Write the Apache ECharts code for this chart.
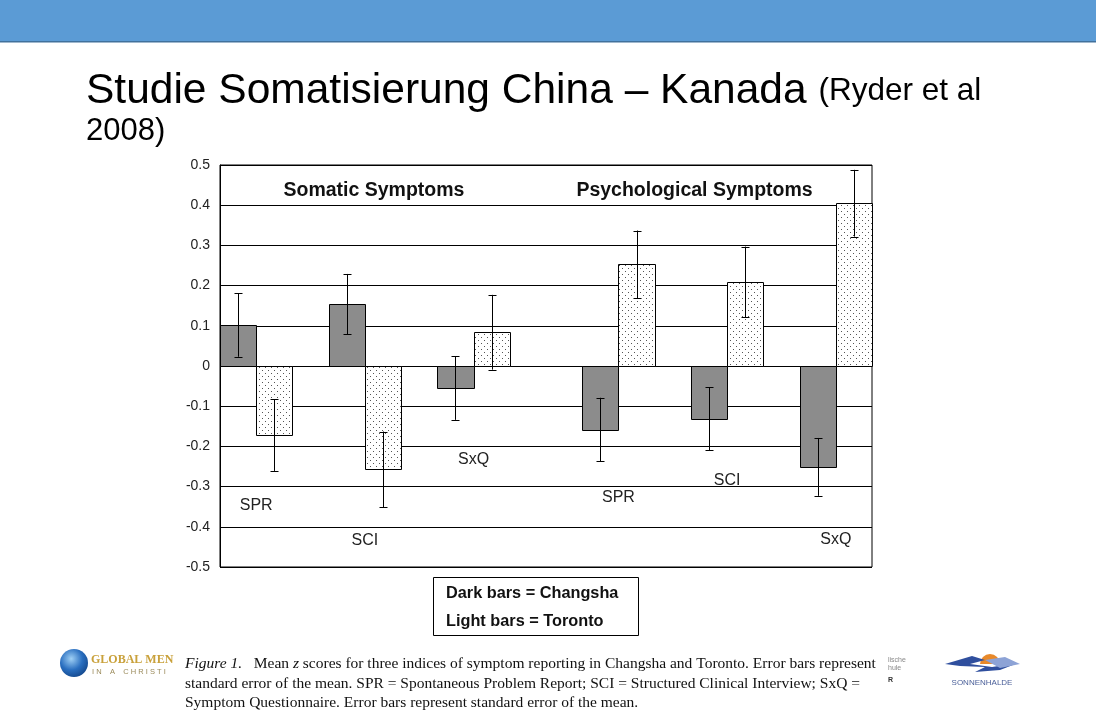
<!DOCTYPE html>
<html>
<head>
<meta charset="utf-8">
<script src="https://cdn.jsdelivr.net/npm/echarts@6/dist/echarts.min.js"></script>
<style>
html,body{margin:0;padding:0;background:#fff;}
#main{width:1096px;height:720px;}
</style>
</head>
<body>
<div id="main"></div>
<script>
// ---- data ----
const categories = ['SPR', 'SCI', 'SxQ', 'SPR', 'SCI', 'SxQ'];
const panels = ['Somatic Symptoms', 'Psychological Symptoms'];
const changsha = [0.102, 0.154, -0.055, -0.158, -0.131, -0.251];
const changshaErr = [0.079, 0.075, 0.079, 0.079, 0.078, 0.072];
const toronto = [-0.172, -0.257, 0.084, 0.253, 0.209, 0.405];
const torontoErr = [0.089, 0.094, 0.093, 0.084, 0.088, 0.083];
const yTicks = [-0.5, -0.4, -0.3, -0.2, -0.1, 0, 0.1, 0.2, 0.3, 0.4, 0.5];

// ---- layout (not data) ----
const labelY = [-0.348, -0.435, -0.234, -0.328, -0.286, -0.433];
function slotOf(i) { return i * 3 + (i >= 3 ? 1 : 0); }

const chart = echarts.init(document.getElementById('main'), null, {renderer: 'canvas'});

// dotted pattern for light bars
const pat = document.createElement('canvas');
pat.width = 6; pat.height = 6;
const pc = pat.getContext('2d');
pc.fillStyle = '#fff'; pc.fillRect(0, 0, 6, 6);
pc.fillStyle = '#555';
pc.fillRect(1, 1, 1, 1);
pc.fillRect(4, 4, 1, 1);

function barData(vals, errs, offset) {
  return vals.map((v, i) => [slotOf(i) + offset, v, errs[i]]);
}

function renderBar(fill) {
  return function (params, api) {
    const s = api.value(0), v = api.value(1), e = api.value(2);
    const p0 = api.coord([s, 0]);
    const p1 = api.coord([s + 1, v]);
    const x = Math.round(p0[0]) + 0.5, x2 = Math.round(p1[0]) + 0.5;
    const y0 = Math.round(p0[1]) + 0.5, y1 = Math.round(p1[1]) + 0.5;
    const cx = Math.round((p0[0] + p1[0]) / 2) + 0.5;
    const eTop = api.coord([s, v + e])[1];
    const eBot = api.coord([s, v - e])[1];
    const cap = 4;
    return {
      type: 'group',
      children: [
        {type: 'rect', shape: {x: x, y: Math.min(y0, y1), width: x2 - x, height: Math.abs(y1 - y0)},
         style: {fill: fill, stroke: '#000', lineWidth: 1}},
        {type: 'line', shape: {x1: cx, y1: eTop, x2: cx, y2: eBot}, style: {stroke: '#000', lineWidth: 1}},
        {type: 'line', shape: {x1: cx - cap, y1: Math.round(eTop) + 0.5, x2: cx + cap, y2: Math.round(eTop) + 0.5}, style: {stroke: '#000', lineWidth: 1}},
        {type: 'line', shape: {x1: cx - cap, y1: Math.round(eBot) + 0.5, x2: cx + cap, y2: Math.round(eBot) + 0.5}, style: {stroke: '#000', lineWidth: 1}}
      ]
    };
  };
}

const serif = '"Liberation Serif", "Times New Roman"';
const capFont = '15.5px ' + serif;

const option = {
  animation: false,
  backgroundColor: '#fff',
  grid: {left: 220, top: 165, width: 652, height: 402, show: true, borderColor: '#000', borderWidth: 1, backgroundColor: 'transparent'},
  xAxis: {type: 'value', min: 0, max: 18, show: false},
  yAxis: {
    type: 'value', min: yTicks[0], max: yTicks[yTicks.length - 1], interval: 0.1,
    axisLine: {show: true, lineStyle: {color: '#000'}},
    axisTick: {show: false},
    splitLine: {show: true, lineStyle: {color: '#000', width: 1}},
    axisLabel: {color: '#222', fontFamily: 'Liberation Sans, Arial', fontSize: 14, margin: 10,
      formatter: v => Math.abs(v) < 1e-9 ? '0' : v.toFixed(1)}
  },
  series: [
    {type: 'custom', name: 'Changsha', renderItem: renderBar('#8c8c8c'), data: barData(changsha, changshaErr, 0), z: 3},
    {type: 'custom', name: 'Toronto', renderItem: renderBar({image: pat, repeat: 'repeat'}), data: barData(toronto, torontoErr, 1), z: 3},
    {type: 'custom', name: 'labels', z: 4,
     data: categories.map((c, i) => [slotOf(i) + 1, labelY[i]]),
     renderItem: function (params, api) {
       const p = api.coord([api.value(0), api.value(1)]);
       return {type: 'text', x: p[0], y: p[1],
         style: {text: categories[params.dataIndex], fill: '#222', font: '16px "Liberation Sans", Arial', align: 'center', verticalAlign: 'middle'}};
     }},
    {type: 'custom', name: 'panels', z: 4,
     data: panels.map((p, i) => [i === 0 ? 4.25 : 13.1, 0.437]),
     renderItem: function (params, api) {
       const p = api.coord([api.value(0), api.value(1)]);
       return {type: 'text', x: p[0], y: p[1],
         style: {text: panels[params.dataIndex], fill: '#111', font: 'bold 19.5px "Liberation Sans", Arial', align: 'center', verticalAlign: 'middle'}};
     }}
  ],
  graphic: [
    {type: 'rect', left: 0, top: 0, shape: {width: 1096, height: 42}, style: {fill: '#5b9bd5'}},
    {type: 'rect', left: 0, top: 41, shape: {width: 1096, height: 1.5}, style: {fill: '#41719c'}},
    {type: 'text', x: 86, y: 91, style: {
      text: '{a|Studie Somatisierung China – Kanada }{b|(Ryder et al}',
      verticalAlign: 'middle',
      rich: {a: {font: '42.5px "Liberation Sans", Arial', fill: '#000'}, b: {font: '31.5px "Liberation Sans", Arial', fill: '#000'}}
    }},
    {type: 'text', x: 86, y: 131, style: {text: '2008)', font: '31px "Liberation Sans", Arial', fill: '#000', verticalAlign: 'middle'}},
    // legend box
    {type: 'rect', shape: {x: 433.5, y: 577.5, width: 205, height: 58}, style: {fill: '#fff', stroke: '#000', lineWidth: 1}},
    {type: 'text', x: 446, y: 594, style: {text: 'Dark bars = Changsha', font: 'bold 16.3px "Liberation Sans", Arial', fill: '#111', verticalAlign: 'middle'}},
    {type: 'text', x: 446, y: 622, style: {text: 'Light bars = Toronto', font: 'bold 16.3px "Liberation Sans", Arial', fill: '#111', verticalAlign: 'middle'}},
    // caption
    {type: 'text', x: 185, y: 664, style: {
      text: '{i|Figure 1.}{n|   Mean }{i|z}{n| scores for three indices of symptom reporting in Changsha and Toronto. Error bars represent}',
      verticalAlign: 'middle',
      rich: {i: {font: 'italic ' + capFont, fill: '#111'}, n: {font: capFont, fill: '#111'}}
    }},
    {type: 'text', x: 185, y: 684, style: {text: 'standard error of the mean. SPR = Spontaneous Problem Report; SCI = Structured Clinical Interview; SxQ =', font: capFont, fill: '#111', verticalAlign: 'middle'}},
    {type: 'text', x: 185, y: 703, style: {text: 'Symptom Questionnaire. Error bars represent standard error of the mean.', font: capFont, fill: '#111', verticalAlign: 'middle'}},
    // left logo
    {type: 'circle', shape: {cx: 74, cy: 663, r: 14}, style: {fill: new echarts.graphic.RadialGradient(0.4, 0.35, 0.8, [{offset: 0, color: '#9fd0f5'}, {offset: 0.5, color: '#2a6fc0'}, {offset: 1, color: '#0c3a7a'}])}},
    {type: 'text', x: 91, y: 660, style: {text: 'GLOBAL MEN', font: 'bold 12px "Liberation Serif", serif', fill: '#c9a13b', verticalAlign: 'middle'}},
    {type: 'text', x: 92, y: 672, style: {text: 'I N    A    C H R I S T I', font: '7.5px "Liberation Sans", Arial', fill: '#9a8a5a', verticalAlign: 'middle'}},
    // right faint text
    {type: 'text', x: 888, y: 664, style: {text: 'lische\nhule', font: '7px "Liberation Sans", Arial', fill: '#888', lineHeight: 8, verticalAlign: 'middle'}},
    {type: 'text', x: 888, y: 680, style: {text: 'R', font: 'bold 7px "Liberation Sans", Arial', fill: '#333', verticalAlign: 'middle'}},
    // sonnenhalde logo
    {type: 'sector', shape: {cx: 990, cy: 664, r: 10, startAngle: Math.PI, endAngle: 2 * Math.PI}, style: {fill: '#e8892a'}},
    {type: 'polygon', shape: {points: [[945, 664], [972, 656], [985, 660], [970, 664], [992, 667], [1018, 663], [1000, 670], [975, 672], [985, 667], [960, 666]]}, style: {fill: '#2f4f9e'}},
    {type: 'polygon', shape: {points: [[985, 660], [1005, 657], [1020, 664], [1000, 668]]}, style: {fill: '#8da3d6'}},
    {type: 'text', x: 982, y: 683, style: {text: 'SONNENHALDE', font: '8px "Liberation Sans", Arial', fill: '#4a5f99', align: 'center', verticalAlign: 'middle'}}
  ]
};
chart.setOption(option);
</script>
</body>
</html>
